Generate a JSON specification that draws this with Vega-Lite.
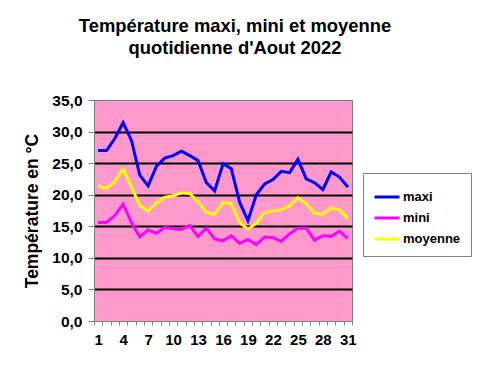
{
  "$schema": "https://vega.github.io/schema/vega-lite/v6.json",
  "width": 258,
  "height": 221,
  "autosize": {"type": "none"},
  "padding": {"left": 94, "top": 100, "right": 130, "bottom": 54},
  "background": "white",
  "title": {
    "text": ["Température maxi, mini et moyenne", "quotidienne d'Aout 2022"],
    "font": "Liberation Sans",
    "fontSize": 18.4,
    "fontWeight": "bold",
    "color": "black",
    "anchor": "middle",
    "dx": 12,
    "offset": 36,
    "lineHeight": 22
  },
  "config": {
    "locale": {"number": {"decimal": ",", "thousands": " ", "grouping": [3], "currency": ["", " €"]}},
    "view": {"fill": "#FF99CC", "stroke": "#808080", "strokeWidth": 1},
    "font": "Liberation Sans"
  },
  "data": {
    "values": [
      {"day": 1, "serie": "maxi", "temp": 27.0},
      {"day": 2, "serie": "maxi", "temp": 27.0},
      {"day": 3, "serie": "maxi", "temp": 28.9},
      {"day": 4, "serie": "maxi", "temp": 31.4},
      {"day": 5, "serie": "maxi", "temp": 28.6},
      {"day": 6, "serie": "maxi", "temp": 23.1},
      {"day": 7, "serie": "maxi", "temp": 21.4},
      {"day": 8, "serie": "maxi", "temp": 24.5},
      {"day": 9, "serie": "maxi", "temp": 25.8},
      {"day": 10, "serie": "maxi", "temp": 26.2},
      {"day": 11, "serie": "maxi", "temp": 26.9},
      {"day": 12, "serie": "maxi", "temp": 26.2},
      {"day": 13, "serie": "maxi", "temp": 25.4},
      {"day": 14, "serie": "maxi", "temp": 21.9},
      {"day": 15, "serie": "maxi", "temp": 20.6},
      {"day": 16, "serie": "maxi", "temp": 24.9},
      {"day": 17, "serie": "maxi", "temp": 24.1},
      {"day": 18, "serie": "maxi", "temp": 18.8},
      {"day": 19, "serie": "maxi", "temp": 15.9},
      {"day": 20, "serie": "maxi", "temp": 20.0},
      {"day": 21, "serie": "maxi", "temp": 21.7},
      {"day": 22, "serie": "maxi", "temp": 22.4},
      {"day": 23, "serie": "maxi", "temp": 23.7},
      {"day": 24, "serie": "maxi", "temp": 23.5},
      {"day": 25, "serie": "maxi", "temp": 25.6},
      {"day": 26, "serie": "maxi", "temp": 22.5},
      {"day": 27, "serie": "maxi", "temp": 21.9},
      {"day": 28, "serie": "maxi", "temp": 20.8},
      {"day": 29, "serie": "maxi", "temp": 23.6},
      {"day": 30, "serie": "maxi", "temp": 22.8},
      {"day": 31, "serie": "maxi", "temp": 21.2},
      {"day": 1, "serie": "mini", "temp": 15.6},
      {"day": 2, "serie": "mini", "temp": 15.6},
      {"day": 3, "serie": "mini", "temp": 16.7},
      {"day": 4, "serie": "mini", "temp": 18.5},
      {"day": 5, "serie": "mini", "temp": 15.6},
      {"day": 6, "serie": "mini", "temp": 13.3},
      {"day": 7, "serie": "mini", "temp": 14.4},
      {"day": 8, "serie": "mini", "temp": 13.9},
      {"day": 9, "serie": "mini", "temp": 14.8},
      {"day": 10, "serie": "mini", "temp": 14.6},
      {"day": 11, "serie": "mini", "temp": 14.5},
      {"day": 12, "serie": "mini", "temp": 15.1},
      {"day": 13, "serie": "mini", "temp": 13.4},
      {"day": 14, "serie": "mini", "temp": 14.7},
      {"day": 15, "serie": "mini", "temp": 13.0},
      {"day": 16, "serie": "mini", "temp": 12.7},
      {"day": 17, "serie": "mini", "temp": 13.5},
      {"day": 18, "serie": "mini", "temp": 12.3},
      {"day": 19, "serie": "mini", "temp": 12.9},
      {"day": 20, "serie": "mini", "temp": 12.1},
      {"day": 21, "serie": "mini", "temp": 13.3},
      {"day": 22, "serie": "mini", "temp": 13.2},
      {"day": 23, "serie": "mini", "temp": 12.6},
      {"day": 24, "serie": "mini", "temp": 13.8},
      {"day": 25, "serie": "mini", "temp": 14.7},
      {"day": 26, "serie": "mini", "temp": 14.7},
      {"day": 27, "serie": "mini", "temp": 12.8},
      {"day": 28, "serie": "mini", "temp": 13.5},
      {"day": 29, "serie": "mini", "temp": 13.4},
      {"day": 30, "serie": "mini", "temp": 14.2},
      {"day": 31, "serie": "mini", "temp": 13.1},
      {"day": 1, "serie": "moyenne", "temp": 21.4},
      {"day": 2, "serie": "moyenne", "temp": 21.0},
      {"day": 3, "serie": "moyenne", "temp": 22.1},
      {"day": 4, "serie": "moyenne", "temp": 24.1},
      {"day": 5, "serie": "moyenne", "temp": 21.2},
      {"day": 6, "serie": "moyenne", "temp": 18.3},
      {"day": 7, "serie": "moyenne", "temp": 17.4},
      {"day": 8, "serie": "moyenne", "temp": 18.7},
      {"day": 9, "serie": "moyenne", "temp": 19.6},
      {"day": 10, "serie": "moyenne", "temp": 19.8},
      {"day": 11, "serie": "moyenne", "temp": 20.3},
      {"day": 12, "serie": "moyenne", "temp": 20.2},
      {"day": 13, "serie": "moyenne", "temp": 18.9},
      {"day": 14, "serie": "moyenne", "temp": 17.2},
      {"day": 15, "serie": "moyenne", "temp": 16.9},
      {"day": 16, "serie": "moyenne", "temp": 18.7},
      {"day": 17, "serie": "moyenne", "temp": 18.6},
      {"day": 18, "serie": "moyenne", "temp": 15.6},
      {"day": 19, "serie": "moyenne", "temp": 14.5},
      {"day": 20, "serie": "moyenne", "temp": 15.5},
      {"day": 21, "serie": "moyenne", "temp": 17.2},
      {"day": 22, "serie": "moyenne", "temp": 17.4},
      {"day": 23, "serie": "moyenne", "temp": 17.6},
      {"day": 24, "serie": "moyenne", "temp": 18.2},
      {"day": 25, "serie": "moyenne", "temp": 19.5},
      {"day": 26, "serie": "moyenne", "temp": 18.6},
      {"day": 27, "serie": "moyenne", "temp": 17.1},
      {"day": 28, "serie": "moyenne", "temp": 16.9},
      {"day": 29, "serie": "moyenne", "temp": 17.9},
      {"day": 30, "serie": "moyenne", "temp": 17.6},
      {"day": 31, "serie": "moyenne", "temp": 16.3}
    ]
  },
  "mark": {"type": "line", "strokeWidth": 3, "strokeJoin": "miter"},
  "encoding": {
    "x": {
      "field": "day",
      "type": "ordinal",
      "sort": "ascending",
      "scale": {"type": "band", "paddingInner": 0, "paddingOuter": 0},
      "axis": {
        "title": null,
        "labelAngle": 0,
        "labelOverlap": false,
        "labelExpr": "(+datum.value - 1) % 3 === 0 ? datum.label : ''",
        "labelFont": "Liberation Sans",
        "labelFontSize": 15,
        "labelFontWeight": "bold",
        "labelColor": "black",
        "labelPadding": 7,
        "tickBand": "extent",
        "tickSize": 4,
        "tickColor": "#808080",
        "domainColor": "#808080",
        "grid": false
      }
    },
    "y": {
      "field": "temp",
      "type": "quantitative",
      "scale": {"domain": [0, 35], "nice": false, "zero": true},
      "axis": {
        "title": "Température en °C",
        "titleFont": "Liberation Sans",
        "titleFontSize": 17.5,
        "titleFontWeight": "bold",
        "titleColor": "black",
        "titlePadding": 10,
        "values": [0, 5, 10, 15, 20, 25, 30, 35],
        "format": ".1f",
        "labelFont": "Liberation Sans",
        "labelFontSize": 15.5,
        "labelFontWeight": "bold",
        "labelColor": "black",
        "labelPadding": 6,
        "tickSize": 6,
        "tickColor": "#808080",
        "domainColor": "#808080",
        "grid": true,
        "gridColor": {"condition": {"test": "datum.value == 0 || datum.value == 35", "value": "transparent"}, "value": "black"},
        "gridWidth": 2,
        "gridOpacity": 1
      }
    },
    "color": {
      "field": "serie",
      "type": "nominal",
      "scale": {"domain": ["maxi", "mini", "moyenne"], "range": ["#0000FF", "#FF00FF", "#FFFF00"]},
      "legend": {
        "title": null,
        "orient": "none",
        "legendX": 269,
        "legendY": 73,
        "symbolType": "stroke",
        "symbolSize": 625,
        "symbolStrokeWidth": 3,
        "labelFont": "Liberation Sans",
        "labelFontSize": 13,
        "labelFontWeight": "bold",
        "labelColor": "black",
        "labelOffset": 2,
        "rowPadding": 0,
        "padding": 10,
        "strokeColor": "#808080",
        "fillColor": "white"
      }
    }
  }
}
